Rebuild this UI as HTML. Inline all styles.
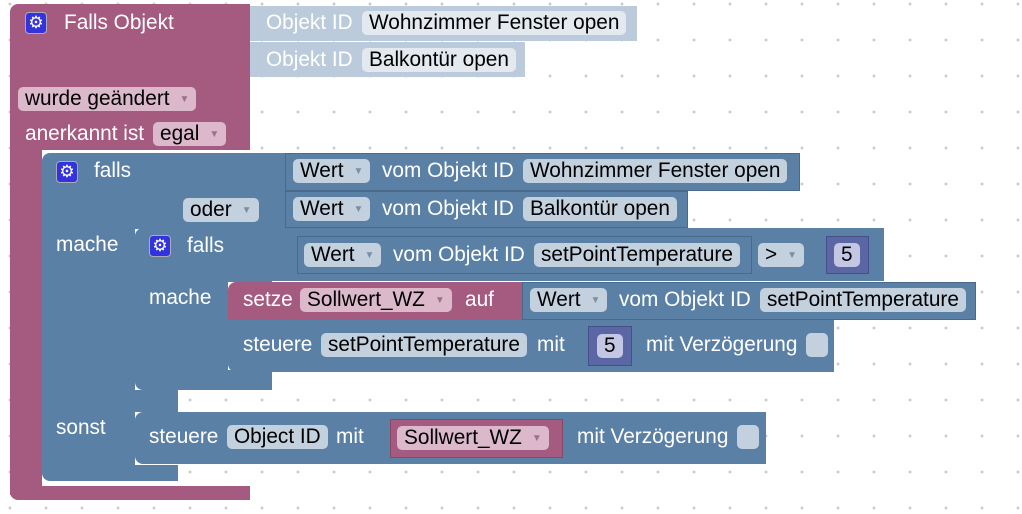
<!DOCTYPE html>
<html><head><meta charset="utf-8"><style>
body{margin:0;width:1022px;height:514px;overflow:hidden;background:#fff;position:relative;font-family:"Liberation Sans",sans-serif;font-size:20.8px;
background-image:radial-gradient(circle,#ccc 1.3px,transparent 1.6px);background-size:36px 36px;background-position:-8px -14px;}
.b{position:absolute;box-sizing:border-box}
.p{background:#a55b80}
.bl{background:#5b80a5}
.t{position:absolute;color:#fff;white-space:nowrap;line-height:22px}
.f{position:absolute;height:24px;line-height:24px;border-radius:5px;padding:0 7px;color:#000;white-space:nowrap;box-sizing:border-box}
.fb{background:#c3d1df}
.fp{background:#dbb8ca}
.ar{color:#7a8fa5;font-size:10px;margin-left:10px;vertical-align:3px}
.fp .ar{color:#a07088}
.g{position:absolute;width:22px;height:22px;background:#3333dd;border:1px solid #aab;border-radius:4px;box-sizing:border-box;color:#fff;font-size:17px;text-align:center;line-height:20px}
.bd{border:1px solid #496a8a}
</style></head><body>
<div class="b p" style="left:10px;top:4px;width:240px;height:146px;border-radius:8px 0 0 0"></div>
<div class="b p" style="left:10px;top:140px;width:32px;height:355px"></div>
<div class="b p" style="left:10px;top:486px;width:240px;height:14px;border-radius:0 0 0 8px"></div>
<div class="g" style="left:25px;top:12px">⚙</div>
<div class="t" style="left:64px;top:12px">Falls Objekt</div>
<div class="b" style="left:250px;top:6px;width:387px;height:35px;background:#bccbdb"></div>
<div class="b" style="left:250px;top:42px;width:275px;height:35px;background:#bccbdb"></div>
<div class="t" style="left:266px;top:12px">Objekt ID</div>
<div class="f" style="left:362px;top:11px;background:#e3e9ef">Wohnzimmer Fenster open</div>
<div class="t" style="left:266px;top:49px">Objekt ID</div>
<div class="f" style="left:362px;top:48px;background:#e3e9ef">Balkontür open</div>
<div class="f fp" style="left:18px;top:87px">wurde geändert<span class="ar">▼</span></div>
<div class="t" style="left:25px;top:123px">anerkannt ist</div>
<div class="f fp" style="left:153px;top:122px">egal<span class="ar">▼</span></div>

<div class="b bl" style="left:42px;top:153px;width:243px;height:76px;border-radius:8px 0 0 0"></div>
<div class="b bl" style="left:42px;top:220px;width:93px;height:190px"></div>
<div class="b bl" style="left:42px;top:390px;width:136px;height:22px"></div>
<div class="b bl" style="left:42px;top:405px;width:93px;height:65px"></div>
<div class="b bl" style="left:42px;top:465px;width:136px;height:16px;border-radius:0 0 0 8px"></div>
<div class="g" style="left:56px;top:161px">⚙</div>
<div class="t" style="left:94px;top:160px">falls</div>
<div class="f fb" style="left:183px;top:198px">oder<span class="ar">▼</span></div>
<div class="t" style="left:56px;top:234px">mache</div>
<div class="t" style="left:56px;top:417px">sonst</div>
<div class="b bl bd" style="left:285px;top:153px;width:515px;height:38px"></div>
<div class="b bl bd" style="left:285px;top:191px;width:403px;height:37px"></div>
<div class="f fb" style="left:293px;top:159px">Wert<span class="ar">▼</span></div>
<div class="t" style="left:382px;top:160px">vom Objekt ID</div>
<div class="f fb" style="left:523px;top:159px">Wohnzimmer Fenster open</div>
<div class="f fb" style="left:293px;top:197px">Wert<span class="ar">▼</span></div>
<div class="t" style="left:382px;top:198px">vom Objekt ID</div>
<div class="f fb" style="left:523px;top:197px">Balkontür open</div>

<div class="b bl" style="left:135px;top:228px;width:137px;height:54px;border-radius:8px 0 0 0"></div>
<div class="b bl" style="left:135px;top:280px;width:93px;height:100px"></div>
<div class="b bl" style="left:135px;top:370px;width:137px;height:20px;border-radius:0 0 0 8px"></div>
<div class="g" style="left:149px;top:235px">⚙</div>
<div class="t" style="left:187px;top:235px">falls</div>
<div class="t" style="left:149px;top:287px">mache</div>
<div class="b bl" style="left:272px;top:228px;width:612px;height:53px"></div>
<div class="b bl bd" style="left:297px;top:236px;width:455px;height:38px"></div>
<div class="f fb" style="left:304px;top:243px">Wert<span class="ar">▼</span></div>
<div class="t" style="left:393px;top:244px">vom Objekt ID</div>
<div class="f fb" style="left:534px;top:243px">setPointTemperature</div>
<div class="f fb" style="left:758px;top:243px">&gt;<span class="ar">▼</span></div>
<div class="b" style="left:826px;top:236px;width:43px;height:38px;background:#5b67a5;border:1px solid #454f88"></div>
<div class="f" style="left:834px;top:243px;background:#c3c7e3">5</div>

<div class="b p" style="left:228px;top:282px;width:294px;height:38px;border-radius:8px 0 0 0"></div>
<div class="t" style="left:243px;top:289px">setze</div>
<div class="f fp" style="left:300px;top:288px">Sollwert_WZ<span class="ar">▼</span></div>
<div class="t" style="left:465px;top:289px">auf</div>
<div class="b bl bd" style="left:522px;top:282px;width:454px;height:38px"></div>
<div class="f fb" style="left:530px;top:288px">Wert<span class="ar">▼</span></div>
<div class="t" style="left:619px;top:289px">vom Objekt ID</div>
<div class="f fb" style="left:760px;top:288px">setPointTemperature</div>

<div class="b bl" style="left:228px;top:320px;width:606px;height:52px;border-radius:0 0 0 8px"></div>
<div class="t" style="left:243px;top:334px">steuere</div>
<div class="f fb" style="left:321px;top:333px">setPointTemperature</div>
<div class="t" style="left:537px;top:334px">mit</div>
<div class="b" style="left:588px;top:326px;width:44px;height:40px;background:#5b67a5;border:1px solid #454f88"></div>
<div class="f" style="left:597px;top:334px;background:#c3c7e3">5</div>
<div class="t" style="left:646px;top:334px">mit Verzögerung</div>
<div class="f fb" style="left:806px;top:333px;width:22px"></div>

<div class="b bl" style="left:135px;top:412px;width:631px;height:52px;border-radius:8px 0 0 8px"></div>
<div class="t" style="left:149px;top:426px">steuere</div>
<div class="f fb" style="left:227px;top:425px">Object ID</div>
<div class="t" style="left:336px;top:426px">mit</div>
<div class="b p" style="left:390px;top:419px;width:173px;height:39px;border:1px solid #8a4868"></div>
<div class="f fp" style="left:397px;top:426px">Sollwert_WZ<span class="ar">▼</span></div>
<div class="t" style="left:577px;top:426px">mit Verzögerung</div>
<div class="f fb" style="left:737px;top:425px;width:22px"></div>
</body></html>
